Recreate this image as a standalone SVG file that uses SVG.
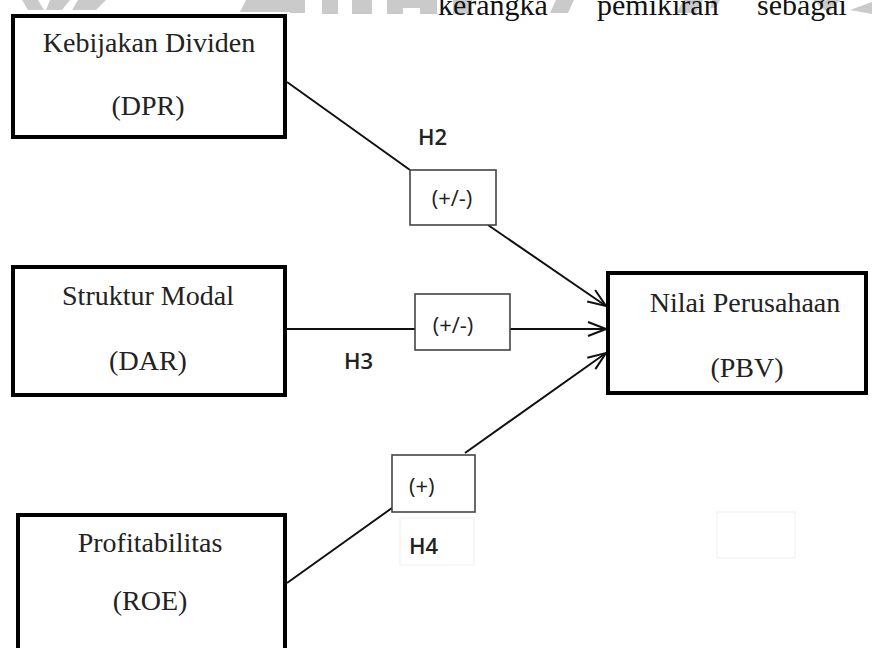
<svg xmlns="http://www.w3.org/2000/svg" width="872" height="648" viewBox="0 0 872 648">
<defs>
<style>
.node{fill:#fff;stroke:#000;stroke-width:4}
.lbl{fill:#fff;stroke:#444;stroke-width:1.6}
.faint{fill:none;stroke:#f2f2f2;stroke-width:1.2}
.serif{font-family:"Liberation Serif","Times New Roman",serif;font-size:28px;fill:#222;text-anchor:middle}
.sans{font-family:"Open Sans","DejaVu Sans",sans-serif;font-size:22px;fill:#222}
.hl{font-weight:600}
.top{font-family:"Liberation Serif","Times New Roman",serif;font-size:30px;fill:#111}
.conn{stroke:#111;stroke-width:2;fill:none}
.wm{fill:#cacaca}
</style>
<marker id="arr" viewBox="0 0 20 16" refX="19" refY="8" markerWidth="20" markerHeight="16" markerUnits="userSpaceOnUse" orient="auto">
<polyline points="1,1 19,8 1,15" fill="none" stroke="#111" stroke-width="2"/>
</marker>
</defs>
<rect width="872" height="648" fill="#fff"/>
<g id="watermark">
<polygon class="wm" points="22,0 38,0 44,10 28,10"/>
<polygon class="wm" points="50,0 70,0 62,10 46,10"/>
<polygon class="wm" points="78,0 106,0 96,10 72,10"/>
<polygon class="wm" points="246,0 300,0 300,12 240,12"/>
<rect class="wm" x="290" y="0" width="15" height="13"/>
<rect class="wm" x="322" y="0" width="16" height="14"/>
<rect class="wm" x="352" y="0" width="20" height="14"/>
<polygon class="wm" points="387,0 437,0 437,14 420,14 420,8 403,8 403,14 387,14"/>
<rect class="wm" x="453" y="0" width="19" height="14"/>
<polygon class="wm" points="556,0 574,0 568,13 550,13"/>
<polygon class="wm" points="683,0 703,0 696,13 677,13"/>
<polygon class="wm" points="712,0 720,0 716,8 710,8"/>
<polygon class="wm" points="813,0 840,0 828,13"/>
<polygon class="wm" points="850,10 872,2 872,14"/>
</g>
<g id="top-text">
<text class="top" x="438" y="15">kerangka</text>
<text class="top" x="597" y="15">pemikiran</text>
<text class="top" x="757" y="15">sebagai</text>
</g>
<g id="connectors">
<polyline class="conn" points="287,82 410,170"/>
<polyline class="conn" points="488,225 606,306" marker-end="url(#arr)"/>
<polyline class="conn" points="287,329 415,329"/>
<polyline class="conn" points="510,329 606,329" marker-end="url(#arr)"/>
<polyline class="conn" points="287,583 392,508"/>
<polyline class="conn" points="465,453 606,353" marker-end="url(#arr)"/>
</g>
<g id="dpr">
<rect class="node" x="13" y="16" width="272" height="121"/>
<text class="serif" x="149" y="52">Kebijakan Dividen</text>
<text class="serif" x="148" y="115">(DPR)</text>
</g>
<g id="dar">
<rect class="node" x="13" y="267" width="272" height="128"/>
<text class="serif" x="148" y="305">Struktur Modal</text>
<text class="serif" x="148" y="370">(DAR)</text>
</g>
<g id="roe">
<rect class="node" x="18" y="515" width="267" height="140"/>
<text class="serif" x="150" y="552">Profitabilitas</text>
<text class="serif" x="150" y="610">(ROE)</text>
</g>
<g id="pbv">
<rect class="node" x="608" y="273" width="258" height="120"/>
<text class="serif" x="745" y="312">Nilai Perusahaan</text>
<text class="serif" x="747" y="377">(PBV)</text>
</g>
<g id="h2">
<text class="sans hl" x="418" y="145">H2</text>
<rect class="lbl" x="410" y="170" width="86" height="55"/>
<text class="sans" x="452" y="206" text-anchor="middle">(+/-)</text>
</g>
<g id="h3">
<rect class="lbl" x="415" y="294" width="95" height="56"/>
<text class="sans" x="453" y="333" text-anchor="middle">(+/-)</text>
<text class="sans hl" x="344" y="369">H3</text>
</g>
<g id="h4">
<rect class="lbl" x="392" y="455" width="83" height="57"/>
<text class="sans" x="409" y="494">(+)</text>
<rect class="faint" x="400" y="518" width="74" height="47"/>
<text class="sans hl" x="409" y="554">H4</text>
</g>
<rect class="faint" x="717" y="512" width="78" height="46"/>
</svg>
